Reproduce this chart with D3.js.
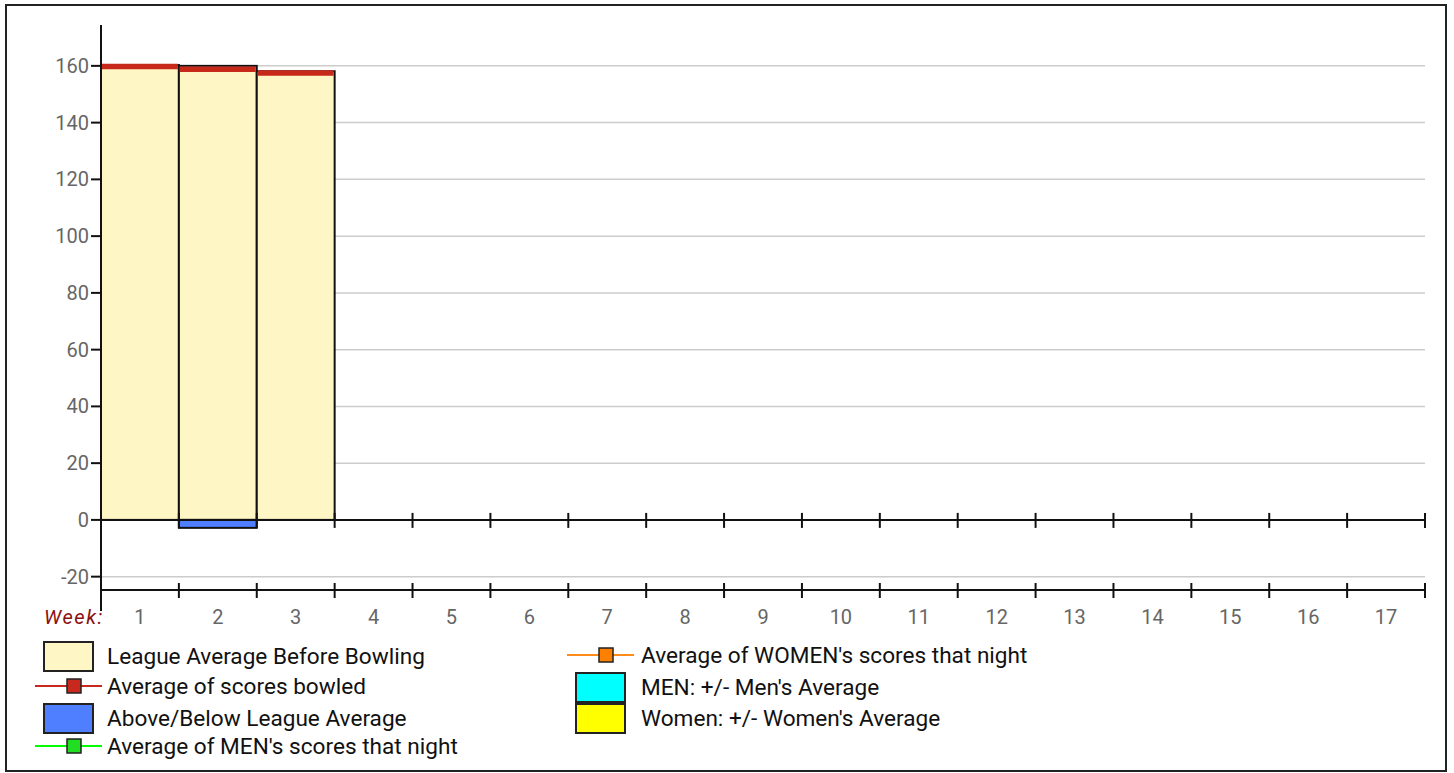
<!DOCTYPE html>
<html><head><meta charset="utf-8">
<script src="https://cdn.jsdelivr.net/npm/d3@7"></script>
<style>
html,body{margin:0;padding:0;background:#fff;}
svg{display:block;font-family:Roboto, "Noto Sans", sans-serif;}
</style></head>
<body>
<svg id="chart" width="1454" height="773"></svg>
<script>
// ---- data ----
const weeks = ["1","2","3","4","5","6","7","8","9","10","11","12","13","14","15","16","17"];
const leagueAvg = [160.3, 160.0, 158.1];        // League Average Before Bowling
const scoresBowled = [159.8, 158.8, 157.5];     // Average of scores bowled
const aboveBelow = [0, -2.8, 0];                // Above/Below League Average
const yTicks = [-20, 0, 20, 40, 60, 80, 100, 120, 140, 160];
const legendLeft = [
  {type:"rect", label:"League Average Before Bowling", fill:"#fff6c6"},
  {type:"line", label:"Average of scores bowled", stroke:"#c8281e", fill:"#c8281e"},
  {type:"rect", label:"Above/Below League Average", fill:"#4f7fff"},
  {type:"line", label:"Average of MEN's scores that night", stroke:"#00ff00", fill:"#22dd22"}
];
const legendRight = [
  {type:"line", label:"Average of WOMEN's scores that night", stroke:"#ff8c1a", fill:"#ff7f00"},
  {type:"rect", label:"MEN: +/- Men's Average", fill:"#00ffff"},
  {type:"rect", label:"Women: +/- Women's Average", fill:"#ffff00"}
];

const svg = d3.select("#chart");
// outer border
svg.append("rect").attr("x",6).attr("y",5).attr("width",1440).attr("height",766)
  .attr("fill","#fff").attr("stroke","#222").attr("stroke-width",2);

const x = d3.scaleBand().domain(weeks).range([101, 1425]).padding(0);
const y = d3.scaleLinear().domain([-24.7, 174.4]).range([590, 25]);

// gridlines
svg.append("g").selectAll("line").data(yTicks).join("line")
  .attr("x1",101).attr("x2",1425)
  .attr("y1",d=>y(d)).attr("y2",d=>y(d))
  .attr("stroke","#cccccc").attr("stroke-width",1.5);

// league average bars
svg.append("g").selectAll("rect").data(leagueAvg).join("rect")
  .attr("x",(d,i)=>x(weeks[i]))
  .attr("y",d=>y(d))
  .attr("width",x.bandwidth())
  .attr("height",d=>y(0)-y(d))
  .attr("fill","#fff6c6").attr("stroke","#111").attr("stroke-width",2);

// above/below bars
svg.append("g").selectAll("rect").data(aboveBelow.map((v,i)=>({v,i})).filter(d=>d.v!==0)).join("rect")
  .attr("x",d=>x(weeks[d.i]))
  .attr("y",d=>y(Math.max(0,d.v)))
  .attr("width",x.bandwidth())
  .attr("height",d=>Math.abs(y(d.v)-y(0)))
  .attr("fill","#4f7fff").attr("stroke","#111").attr("stroke-width",2);

// average of scores bowled (thick red segments)
svg.append("g").selectAll("line").data(scoresBowled).join("line")
  .attr("x1",(d,i)=>x(weeks[i])+1).attr("x2",(d,i)=>x(weeks[i])+x.bandwidth()-1)
  .attr("y1",d=>y(d)).attr("y2",d=>y(d))
  .attr("stroke","#c6281a").attr("stroke-width",5.5);

// zero axis with ticks
const zeroAxis = svg.append("g");
zeroAxis.append("line").attr("x1",101).attr("x2",1425).attr("y1",y(0)).attr("y2",y(0))
  .attr("stroke","#111").attr("stroke-width",2);
const bounds = weeks.map(w=>x(w)).concat([x(weeks[weeks.length-1])+x.bandwidth()]);
zeroAxis.selectAll("line.t").data(bounds.slice(1)).join("line").attr("class","t")
  .attr("x1",d=>d).attr("x2",d=>d).attr("y1",y(0)-7).attr("y2",y(0)+8)
  .attr("stroke","#111").attr("stroke-width",2);

// bottom axis
const bottom = svg.append("g");
bottom.append("line").attr("x1",101).attr("x2",1425).attr("y1",590).attr("y2",590)
  .attr("stroke","#111").attr("stroke-width",2);
bottom.selectAll("line.t").data(bounds.slice(1)).join("line").attr("class","t")
  .attr("x1",d=>d).attr("x2",d=>d).attr("y1",583).attr("y2",598)
  .attr("stroke","#111").attr("stroke-width",2);
bottom.selectAll("text").data(weeks).join("text")
  .attr("x",d=>x(d)+x.bandwidth()/2).attr("y",624)
  .attr("text-anchor","middle").attr("font-size",20).attr("fill","#666")
  .text(d=>d);
svg.append("text").attr("x",104).attr("y",624).attr("text-anchor","end")
  .attr("font-size",20).attr("letter-spacing","1.6px").attr("font-style","italic").attr("fill","#8b1010").text("Week:");

// y axis
const yAxis = svg.append("g");
yAxis.append("line").attr("x1",101).attr("x2",101).attr("y1",25).attr("y2",611)
  .attr("stroke","#111").attr("stroke-width",2);
yAxis.selectAll("line.t").data(yTicks).join("line").attr("class","t")
  .attr("x1",91).attr("x2",101).attr("y1",d=>y(d)).attr("y2",d=>y(d))
  .attr("stroke","#111").attr("stroke-width",2);
yAxis.selectAll("text").data(yTicks).join("text")
  .attr("x",89).attr("y",d=>y(d)+7).attr("text-anchor","end")
  .attr("font-size",20).attr("fill","#666").text(d=>d);

// legend
function drawLegend(items, x0, textX, rowYs){
  items.forEach((it,i)=>{
    const cy = rowYs[i];
    const g = svg.append("g");
    if(it.type==="rect"){
      g.append("rect").attr("x",x0+9).attr("y",cy-14).attr("width",49).attr("height",29)
        .attr("fill",it.fill).attr("stroke","#222").attr("stroke-width",2);
    } else {
      g.append("line").attr("x1",x0).attr("x2",x0+67).attr("y1",cy).attr("y2",cy)
        .attr("stroke",it.stroke).attr("stroke-width",2);
      g.append("rect").attr("x",x0+32).attr("y",cy-7).attr("width",14).attr("height",14)
        .attr("fill",it.fill).attr("stroke","#222").attr("stroke-width",1.5);
    }
    g.append("text").attr("x",textX).attr("y",cy+7.5).attr("font-size",22.6).attr("fill","#111").text(it.label);
  });
}
drawLegend(legendLeft, 35, 107, [656, 686, 718, 746]);
drawLegend(legendRight, 567, 641, [655, 687, 718]);
</script>
</body></html>
